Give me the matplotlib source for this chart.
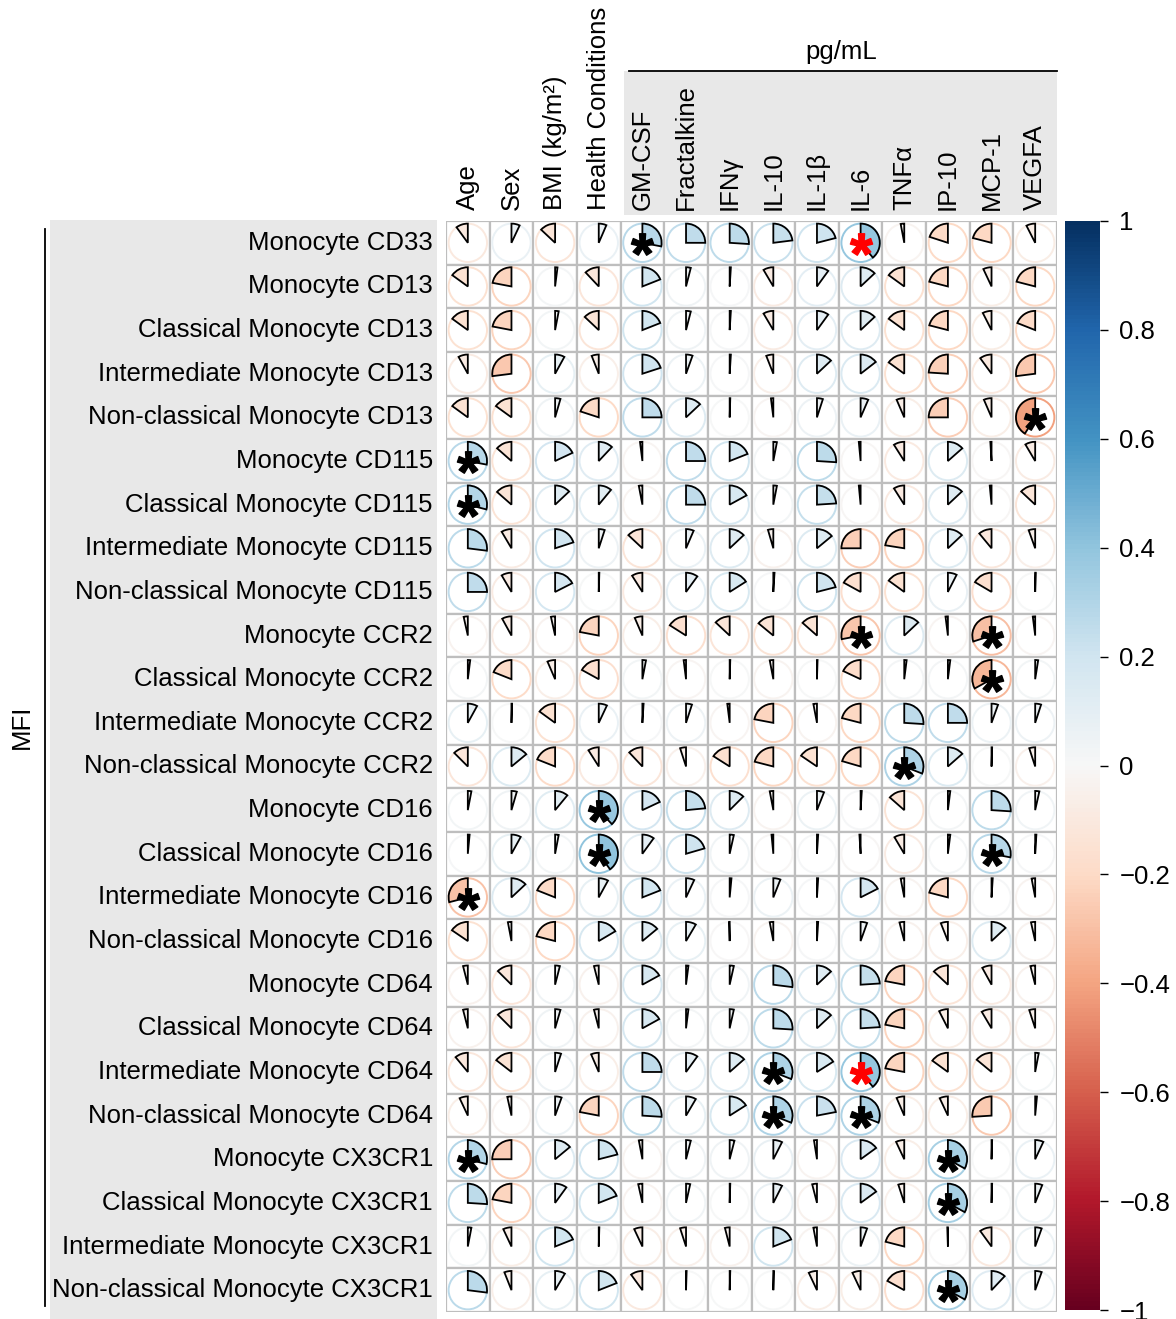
import numpy as np
import matplotlib
matplotlib.use('Agg')
import matplotlib.pyplot as plt
from matplotlib.patches import Wedge, Circle, Rectangle
from matplotlib.textpath import TextPath
from matplotlib.path import Path
from matplotlib.font_manager import FontProperties
import matplotlib.colors as mcolors
import matplotlib.cm as cm

plt.rcParams['font.family'] = ['Liberation Sans', 'DejaVu Sans']

columns = ['Age', 'Sex', 'BMI (kg/m²)', 'Health Conditions', 'GM-CSF', 'Fractalkine',
           'IFNγ', 'IL-10', 'IL-1β', 'IL-6', 'TNFα', 'IP-10', 'MCP-1', 'VEGFA']
group_label = 'pg/mL'
row_group_label = 'MFI'

rows = ['Monocyte CD33', 'Monocyte CD13', 'Classical Monocyte CD13',
        'Intermediate Monocyte CD13', 'Non-classical Monocyte CD13',
        'Monocyte CD115', 'Classical Monocyte CD115', 'Intermediate Monocyte CD115',
        'Non-classical Monocyte CD115', 'Monocyte CCR2', 'Classical Monocyte CCR2',
        'Intermediate Monocyte CCR2', 'Non-classical Monocyte CCR2', 'Monocyte CD16',
        'Classical Monocyte CD16', 'Intermediate Monocyte CD16',
        'Non-classical Monocyte CD16', 'Monocyte CD64', 'Classical Monocyte CD64',
        'Intermediate Monocyte CD64', 'Non-classical Monocyte CD64',
        'Monocyte CX3CR1', 'Classical Monocyte CX3CR1',
        'Intermediate Monocyte CX3CR1', 'Non-classical Monocyte CX3CR1']

r_cd33 = [-0.10, 0.07, -0.13, 0.065, 0.28, 0.25, 0.26, 0.23, 0.21, 0.39, -0.03, -0.20, -0.21, -0.075]
r_cd13 = [-0.15, -0.22, 0.02, -0.12, 0.19, 0.04, 0.01, -0.085, 0.10, 0.13, -0.15, -0.21, -0.07, -0.21]
r_c_cd13 = [-0.15, -0.22, 0.03, -0.13, 0.19, 0.04, 0.01, -0.085, 0.10, 0.13, -0.15, -0.21, -0.075, -0.19]
r_i_cd13 = [-0.08, -0.27, 0.08, -0.06, 0.20, 0.055, 0.01, -0.06, 0.13, 0.145, -0.15, -0.24, -0.10, -0.27]
r_n_cd13 = [-0.15, -0.15, 0.045, -0.20, 0.25, 0.13, 0.005, -0.02, 0.05, 0.065, -0.065, -0.25, -0.065, -0.41]
r_cd115 = [0.28, -0.135, 0.18, 0.12, -0.02, 0.25, 0.19, 0.03, 0.26, -0.015, -0.09, 0.135, -0.01, -0.085]
r_c_cd115 = [0.29, -0.135, 0.13, 0.11, -0.03, 0.25, 0.17, 0.03, 0.24, -0.015, -0.09, 0.13, -0.015, -0.13]
r_i_cd115 = [0.27, -0.085, 0.20, 0.05, -0.13, 0.065, 0.13, -0.045, 0.14, -0.25, -0.225, 0.13, -0.11, -0.055]
r_n_cd115 = [0.25, -0.085, 0.175, 0.005, -0.09, 0.10, 0.16, 0.01, 0.21, -0.17, -0.15, 0.075, -0.165, 0.005]
r_ccr2 = [-0.035, -0.08, -0.035, -0.22, -0.065, -0.16, -0.13, -0.14, -0.135, -0.28, 0.13, -0.02, -0.30, -0.02]
r_c_ccr2 = [0.02, -0.19, -0.065, -0.17, 0.03, -0.02, 0.005, -0.03, 0.005, -0.18, 0.02, 0.02, -0.33, 0.025]
r_i_ccr2 = [0.08, 0.005, -0.15, 0.07, 0.01, 0.05, -0.02, -0.22, -0.03, -0.21, 0.26, 0.25, 0.055, 0.05]
r_n_ccr2 = [-0.125, 0.14, -0.19, -0.09, -0.12, -0.05, -0.16, -0.21, -0.155, -0.205, 0.31, 0.135, 0.005, -0.05]
r_cd16 = [0.03, 0.045, 0.11, 0.38, 0.18, 0.235, 0.125, -0.03, 0.06, 0.01, -0.135, 0.02, 0.26, 0.035]
r_c_cd16 = [0.015, 0.08, 0.03, 0.40, 0.10, 0.205, 0.035, -0.015, 0.01, -0.01, -0.085, 0.02, 0.28, 0.01]
r_i_cd16 = [-0.29, 0.13, -0.19, 0.08, 0.19, 0.07, 0.015, 0.06, 0.01, 0.175, -0.03, -0.21, 0.01, -0.03]
r_n_cd16 = [-0.155, -0.03, -0.21, 0.165, 0.14, 0.085, -0.005, -0.03, 0.01, 0.055, -0.04, -0.06, 0.13, -0.035]
r_cd64 = [-0.04, -0.125, 0.04, -0.04, 0.17, 0.02, 0.035, 0.27, 0.13, 0.24, -0.22, -0.13, -0.08, -0.04]
r_c_cd64 = [-0.04, -0.125, 0.045, -0.04, 0.17, 0.02, 0.035, 0.26, 0.13, 0.24, -0.22, -0.075, -0.085, -0.05]
r_i_cd64 = [-0.11, -0.145, 0.05, -0.065, 0.25, 0.10, 0.135, 0.31, 0.16, 0.39, -0.22, -0.15, -0.14, 0.03]
r_n_cd64 = [-0.07, -0.035, 0.055, -0.22, 0.26, 0.085, 0.16, 0.31, 0.22, 0.31, -0.065, -0.07, -0.26, 0.015]
r_cx3cr1 = [0.29, -0.25, 0.14, 0.21, -0.03, 0.04, 0.04, 0.075, -0.025, 0.15, -0.07, 0.33, 0.005, 0.07]
r_c_cx3cr1 = [0.26, -0.22, 0.10, 0.19, -0.035, 0.035, 0.005, 0.075, -0.04, 0.15, -0.05, 0.33, 0.005, 0.06]
r_i_cx3cr1 = [0.03, -0.07, 0.19, 0.005, -0.07, -0.05, -0.04, 0.19, -0.03, 0.055, -0.21, -0.005, -0.10, 0.055]
r_n_cx3cr1 = [0.27, -0.06, 0.085, 0.19, -0.10, 0.005, 0.005, 0.005, -0.07, -0.07, -0.17, 0.33, 0.12, 0.055]

values = [r_cd33, r_cd13, r_c_cd13, r_i_cd13, r_n_cd13, r_cd115, r_c_cd115, r_i_cd115,
          r_n_cd115, r_ccr2, r_c_ccr2, r_i_ccr2, r_n_ccr2, r_cd16, r_c_cd16, r_i_cd16,
          r_n_cd16, r_cd64, r_c_cd64, r_i_cd64, r_n_cd64, r_cx3cr1, r_c_cx3cr1,
          r_i_cx3cr1, r_n_cx3cr1]

sig_black = [('Monocyte CD33', 'GM-CSF'), ('Non-classical Monocyte CD13', 'VEGFA'),
             ('Monocyte CD115', 'Age'), ('Classical Monocyte CD115', 'Age'),
             ('Monocyte CCR2', 'IL-6'), ('Monocyte CCR2', 'MCP-1'),
             ('Classical Monocyte CCR2', 'MCP-1'), ('Non-classical Monocyte CCR2', 'TNFα'),
             ('Monocyte CD16', 'Health Conditions'), ('Classical Monocyte CD16', 'Health Conditions'),
             ('Classical Monocyte CD16', 'MCP-1'), ('Intermediate Monocyte CD16', 'Age'),
             ('Intermediate Monocyte CD64', 'IL-10'), ('Non-classical Monocyte CD64', 'IL-10'),
             ('Non-classical Monocyte CD64', 'IL-6'), ('Monocyte CX3CR1', 'Age'),
             ('Monocyte CX3CR1', 'IP-10'), ('Classical Monocyte CX3CR1', 'IP-10'),
             ('Non-classical Monocyte CX3CR1', 'IP-10')]
sig_red = [('Monocyte CD33', 'IL-6'), ('Intermediate Monocyte CD64', 'IL-6')]

cbar_ticks = [1, 0.8, 0.6, 0.4, 0.2, 0, -0.2, -0.4, -0.6, -0.8, -1]
cbar_labels = ['1', '0.8', '0.6', '0.4', '0.2', '0', '−0.2', '−0.4', '−0.6', '−0.8', '−1']

W, H = 1176, 1319
FS = 18.5
fig = plt.figure(figsize=(W / 100, H / 100), dpi=100)

def fx(px):
    return px / W

def fy(py):
    return 1 - py / H

# background axes for grey panels, group line and side labels
bg = fig.add_axes([0, 0, 1, 1], zorder=-5)
bg.set_xlim(0, W)
bg.set_ylim(H, 0)
bg.axis('off')
bg.add_patch(Rectangle((50, 220), 437 - 50, 1319 - 220, facecolor='#E8E8E8', edgecolor='none'))
bg.add_patch(Rectangle((624, 71), 1057 - 624, 215 - 71, facecolor='#E8E8E8', edgecolor='none'))
bg.plot([629, 1057], [71, 71], color='black', lw=1.3)
bg.plot([45, 45], [229, 1306], color='black', lw=1.3)
bg.text(841, 52, group_label, ha='center', va='center', fontsize=FS)
bg.text(22, 727, row_group_label, ha='center', va='center', rotation=90, fontsize=FS)

gx0, gx1, gy0, gy1 = 446, 1057, 221, 1312
ax = fig.add_axes([fx(gx0), fy(gy1), fx(gx1) - fx(gx0), fy(gy0) - fy(gy1)])
nr, nc = len(rows), len(columns)
ax.set_xlim(0, nc)
ax.set_ylim(0, nr)
ax.axis('off')

cmap = plt.get_cmap('RdBu')
norm = mcolors.Normalize(-1, 1)
R = 0.44
for i, rname in enumerate(rows):
    yc = nr - i - 0.5
    for j, cname in enumerate(columns):
        xc = j + 0.5
        v = values[i][j]
        col = cmap(norm(v))
        ax.add_patch(Rectangle((j, nr - i - 1), 1, 1, facecolor='white',
                               edgecolor='#BEBEBE', lw=1.6, zorder=1))
        ax.add_patch(Circle((xc, yc), R, facecolor='none', edgecolor=col, lw=1.4, zorder=2))
        ang = abs(v) * 360
        if v >= 0:
            t1, t2 = 90 - ang, 90
        else:
            t1, t2 = 90, 90 + ang
        ax.add_patch(Wedge((xc, yc), R, t1, t2, facecolor=col, edgecolor='black',
                           lw=1.3, zorder=3, joinstyle='miter'))

# asterisk marker (centred glyph path)
fp = FontProperties(family='Liberation Sans', weight='bold')
tp = TextPath((0, 0), '*', prop=fp)
codes = np.array(tp.codes)
verts = np.array(tp.vertices, dtype=float)
real = codes != Path.CLOSEPOLY
x0, y0 = verts[real].min(axis=0)
x1, y1 = verts[real].max(axis=0)
verts = verts - np.array([(x0 + x1) / 2, (y0 + y1) / 2])
verts[~real] = 0
star = Path(verts, codes)

def star_xy(pairs):
    xs, ys = [], []
    for rn, cn in pairs:
        xs.append(columns.index(cn) + 0.5)
        ys.append(nr - rows.index(rn) - 0.5 - 0.03)
    return xs, ys

bx, by = star_xy(sig_black)
ax.plot(bx, by, linestyle='none', marker=star, markersize=16, color='black', zorder=5)
rx, ry = star_xy(sig_red)
ax.plot(rx, ry, linestyle='none', marker=star, markersize=16, color='red', zorder=5)

# row labels
for i, rname in enumerate(rows):
    ax.text(-0.3, nr - i - 0.5, rname, ha='right', va='center', fontsize=FS, zorder=6)

# column labels
for j, cname in enumerate(columns):
    ax.text(j + 0.5, nr + 0.25, cname, ha='center', va='bottom', rotation=90,
            fontsize=FS, zorder=6)

# colorbar
cax = fig.add_axes([fx(1065), fy(1310), fx(1100) - fx(1065), fy(221) - fy(1310)])
sm = cm.ScalarMappable(norm=norm, cmap=cmap)
cb = fig.colorbar(sm, cax=cax, ticks=cbar_ticks)
cb.set_ticklabels(cbar_labels)
cb.outline.set_visible(False)
cax.tick_params(length=6, width=1, labelsize=FS, pad=8)

fig.savefig('out.png', dpi=100)
